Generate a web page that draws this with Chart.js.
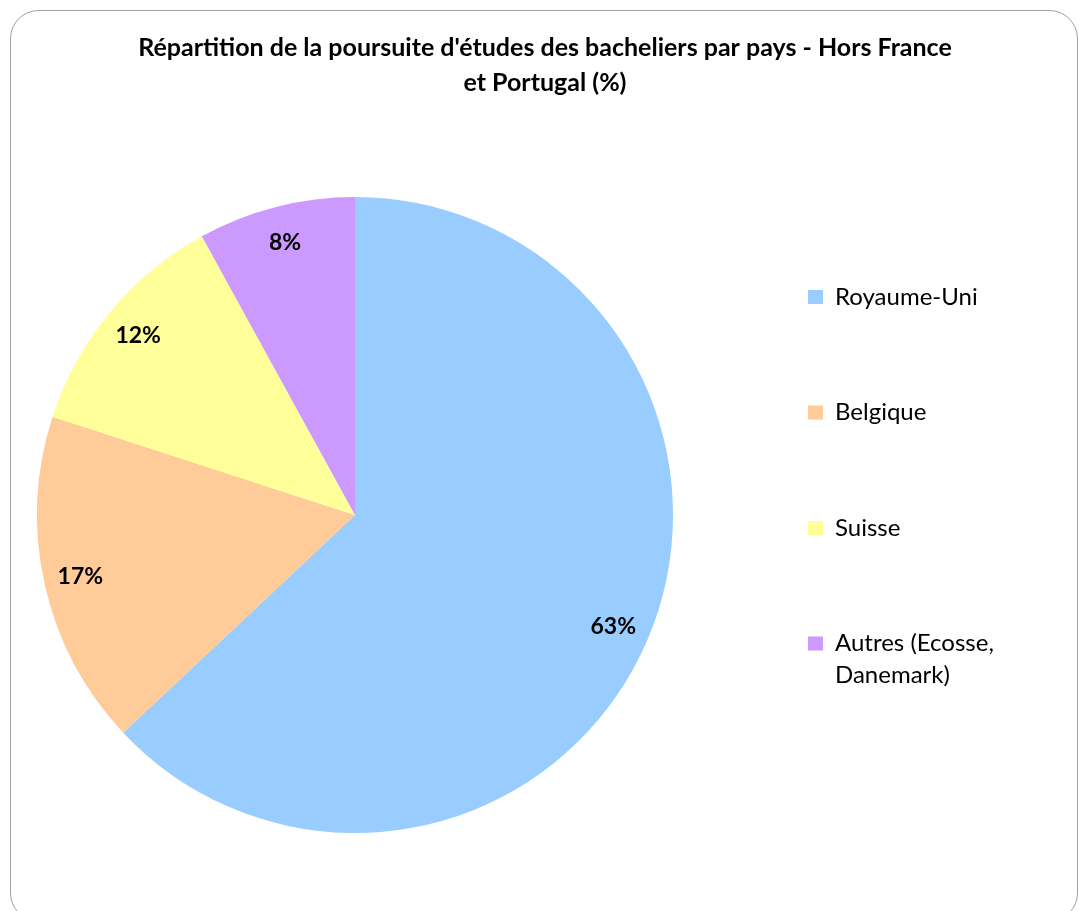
<!DOCTYPE html>
<html>
<head>
<meta charset="utf-8">
<script src="https://cdn.jsdelivr.net/npm/chart.js@4.4.1/dist/chart.umd.min.js"></script>
<style>
  html, body { margin: 0; padding: 0; background: #ffffff; }
  #wrap { width: 1079px; height: 911px; }
</style>
</head>
<body>
<div id="wrap"><canvas id="c" width="1079" height="911"></canvas></div>
<script>
const titleLines = ["Répartition de la poursuite d'études des bacheliers par pays - Hors France", "et Portugal (%)"];
const categories = ["Royaume-Uni", "Belgique", "Suisse", ["Autres (Ecosse,", "Danemark)"]];
const values = [63, 17, 12, 8];
const valueLabels = ["63%", "17%", "12%", "8%"];
const colors = ["#99CCFF", "#FFCC99", "#FFFF99", "#CC99FF"];

const FONT = "Lato, 'Open Sans', sans-serif";
const LEGEND_LEFT = 716.5;   // left edge of the legend block
const PLOT_LEFT = -6.5;      // left edge of the pie's area (emulated negative padding)

const framePlugin = {
  id: 'frame',
  beforeDraw(chart) {
    const ctx = chart.ctx;
    ctx.save();
    ctx.fillStyle = '#ffffff';
    ctx.fillRect(0, 0, chart.width, chart.height);
    const x = 10.5, y = 10.5, w = 1067, h = 910.5, r = 28;
    ctx.beginPath();
    ctx.moveTo(x + r, y);
    ctx.lineTo(x + w - r, y);
    ctx.arcTo(x + w, y, x + w, y + r, r);
    ctx.lineTo(x + w, y + h - r);
    ctx.arcTo(x + w, y + h, x + w - r, y + h, r);
    ctx.lineTo(x + r, y + h);
    ctx.arcTo(x, y + h, x, y + h - r, r);
    ctx.lineTo(x, y + r);
    ctx.arcTo(x, y, x + r, y, r);
    ctx.closePath();
    ctx.strokeStyle = '#a0a0a0';
    ctx.lineWidth = 1;
    ctx.stroke();
    ctx.restore();
  }
};

const areaPlugin = {
  id: 'plotArea',
  afterLayout(chart) {
    const a = chart.chartArea;
    a.left = PLOT_LEFT;
    a.width = a.right - a.left;
  }
};

const titlePlugin = {
  id: 'customTitle',
  afterDraw(chart) {
    const ctx = chart.ctx;
    ctx.save();
    ctx.font = "bold 25px " + FONT;
    ctx.fillStyle = '#000000';
    ctx.textAlign = 'center';
    ctx.textBaseline = 'alphabetic';
    ctx.fillText(titleLines[0], 545, 56);
    ctx.fillText(titleLines[1], 545, 91);
    ctx.restore();
  }
};

const sliceLabelPlugin = {
  id: 'sliceLabels',
  afterDatasetsDraw(chart) {
    const ctx = chart.ctx;
    const meta = chart.getDatasetMeta(0);
    ctx.save();
    ctx.font = "bold 23px " + FONT;
    ctx.fillStyle = '#000000';
    ctx.textAlign = 'center';
    ctx.textBaseline = 'middle';
    meta.data.forEach((arc, i) => {
      const p = arc.getProps(['x', 'y', 'startAngle', 'endAngle', 'outerRadius'], true);
      const mid = (p.startAngle + p.endAngle) / 2;
      const r = p.outerRadius * 0.885;
      ctx.fillText(valueLabels[i], p.x + Math.cos(mid) * r, p.y + Math.sin(mid) * r);
    });
    ctx.restore();
  }
};

const chart = new Chart(document.getElementById('c'), {
  type: 'pie',
  data: {
    labels: categories,
    datasets: [{
      data: values,
      backgroundColor: colors,
      borderWidth: 0,
      hoverOffset: 0
    }]
  },
  options: {
    responsive: false,
    devicePixelRatio: 1,
    animation: false,
    events: [],
    radius: 318,
    layout: { padding: { left: 0, right: 0, top: 193.5, bottom: 74.5 } },
    plugins: {
      title: { display: false },
      tooltip: { enabled: false },
      legend: {
        display: true,
        position: 'right',
        align: 'start',
        labels: {
          boxWidth: 15,
          boxHeight: 14,
          padding: 91.5,
          color: '#000000',
          font: { family: FONT, size: 24, lineHeight: 1.333 }
        }
      }
    }
  },
  plugins: [framePlugin, areaPlugin, titlePlugin, sliceLabelPlugin]
});

// place the legend block so that it starts at LEGEND_LEFT
chart.options.layout.padding.right = chart.width - LEGEND_LEFT - chart.legend.width;
chart.update();
</script>
</body>
</html>
